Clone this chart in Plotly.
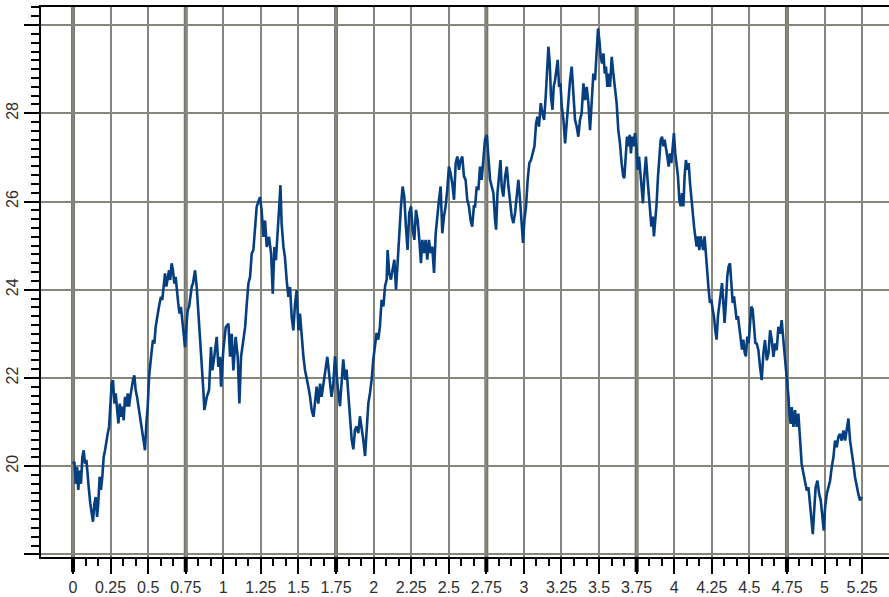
import numpy as np
import plotly.graph_objects as go

# ---- data ----
xs = [0.0, 0.009, 0.018, 0.027, 0.035, 0.044, 0.053, 0.062, 0.071, 0.08, 0.089, 0.097, 0.106, 0.115, 0.124, 0.133,
      0.142, 0.151, 0.16, 0.168, 0.177, 0.186, 0.195, 0.204, 0.213, 0.222, 0.231, 0.24, 0.248, 0.257, 0.266, 0.275,
      0.284, 0.293, 0.302, 0.311, 0.319, 0.328, 0.337, 0.346, 0.355, 0.364, 0.373, 0.381, 0.39, 0.399, 0.408, 0.417,
      0.426, 0.435, 0.444, 0.452, 0.461, 0.47, 0.479, 0.488, 0.497, 0.506, 0.515, 0.524, 0.532, 0.541, 0.55, 0.559,
      0.568, 0.576, 0.585, 0.594, 0.603, 0.612, 0.621, 0.63, 0.639, 0.647, 0.656, 0.665, 0.674, 0.683, 0.692, 0.7,
      0.709, 0.718, 0.727, 0.736, 0.745, 0.754, 0.763, 0.772, 0.781, 0.79, 0.798, 0.805, 0.812,
      0.823, 0.834, 0.845, 0.856, 0.867, 0.874, 0.89, 0.905, 0.918, 0.927, 0.94, 0.956, 0.967, 0.978, 0.985, 1.0,
      1.016, 1.034, 1.045, 1.056, 1.067, 1.082, 1.096, 1.107, 1.118, 1.134, 1.145, 1.156, 1.167, 1.178, 1.189, 1.2,
      1.211, 1.222, 1.233, 1.244, 1.255, 1.267, 1.278, 1.289, 1.304, 1.318, 1.329, 1.34, 1.35, 1.362, 1.373, 1.38,
      1.388, 1.4, 1.41, 1.422, 1.433, 1.444, 1.455, 1.466, 1.477, 1.488, 1.5, 1.51, 1.52, 1.533, 1.544, 1.555,
      1.566, 1.577, 1.588, 1.6, 1.61, 1.621, 1.632, 1.644, 1.654, 1.666, 1.677, 1.692, 1.706, 1.72, 1.732,
      1.743, 1.761, 1.776, 1.787, 1.798, 1.81, 1.82, 1.831, 1.843, 1.854, 1.865, 1.876, 1.887, 1.898, 1.909, 1.92,
      1.931, 1.943, 1.954, 1.965, 1.976, 1.987, 1.998, 2.009, 2.02, 2.031, 2.042, 2.053, 2.065, 2.076, 2.087, 2.093,
      2.104, 2.115, 2.127, 2.138, 2.149, 2.16, 2.171, 2.182, 2.193, 2.204, 2.215, 2.226, 2.237, 2.249, 2.26, 2.271,
      2.282, 2.293, 2.304, 2.315, 2.324, 2.335, 2.346, 2.357, 2.368, 2.379, 2.39, 2.402, 2.413, 2.424, 2.435, 2.446,
      2.457, 2.468, 2.479, 2.49, 2.501, 2.512, 2.523, 2.535, 2.546, 2.557, 2.568, 2.579, 2.59, 2.601, 2.612, 2.623,
      2.634, 2.645, 2.656, 2.667,
      2.675, 2.686, 2.697, 2.708, 2.719, 2.73, 2.741, 2.753, 2.764, 2.775, 2.786, 2.797, 2.808, 2.815, 2.824, 2.835,
      2.844, 2.852, 2.863, 2.875, 2.886, 2.897, 2.908, 2.919, 2.93, 2.941, 2.952, 2.963, 2.974, 2.985, 2.994, 3.003,
      3.014, 3.025, 3.036, 3.047, 3.058, 3.07, 3.081, 3.09, 3.1, 3.112, 3.123, 3.134, 3.145, 3.154, 3.163, 3.172,
      3.18, 3.19, 3.198, 3.207, 3.216, 3.225, 3.234, 3.243, 3.252, 3.263, 3.274, 3.285, 3.296, 3.307, 3.318, 3.329,
      3.34, 3.351, 3.362, 3.373, 3.384, 3.396, 3.407, 3.418, 3.429, 3.44, 3.451, 3.462, 3.473, 3.484, 3.493, 3.502,
      3.511, 3.52, 3.529, 3.538, 3.546, 3.555, 3.564, 3.573, 3.584, 3.595, 3.606, 3.617,
      3.628, 3.639, 3.65, 3.661, 3.668, 3.677, 3.686, 3.695, 3.704, 3.712, 3.721, 3.73, 3.739, 3.748, 3.757, 3.766,
      3.775, 3.783, 3.792, 3.801, 3.812, 3.821, 3.83, 3.839, 3.848, 3.857, 3.865, 3.874, 3.883, 3.892, 3.901, 3.91,
      3.919, 3.928, 3.936, 3.945, 3.954, 3.963, 3.972, 3.981, 3.99, 3.998, 4.007, 4.016, 4.025, 4.034, 4.043, 4.052,
      4.061, 4.069, 4.078, 4.087, 4.096, 4.105, 4.114, 4.123, 4.132, 4.14, 4.149, 4.158, 4.167, 4.176, 4.185, 4.193,
      4.202, 4.211, 4.22, 4.229, 4.238, 4.247, 4.256, 4.264, 4.273, 4.282, 4.291, 4.3, 4.309, 4.318, 4.327, 4.335,
      4.344, 4.353, 4.362, 4.371, 4.38, 4.389, 4.398, 4.406, 4.415, 4.424, 4.433, 4.442, 4.451, 4.46, 4.469, 4.477,
      4.486, 4.495, 4.504, 4.513, 4.522, 4.531,
      4.54, 4.549, 4.56, 4.571, 4.582, 4.593, 4.604, 4.616, 4.627, 4.638, 4.649, 4.66, 4.671, 4.682, 4.693, 4.704,
      4.715, 4.726, 4.738, 4.749, 4.76, 4.766, 4.775, 4.782, 4.793, 4.804, 4.815, 4.826, 4.837, 4.848, 4.86, 4.87,
      4.882, 4.893, 4.904, 4.915, 4.922, 4.93, 4.941, 4.953, 4.964, 4.975, 4.986, 4.995, 5.004, 5.015, 5.026, 5.037,
      5.048, 5.059, 5.07, 5.081, 5.092, 5.103, 5.114, 5.126, 5.137, 5.148, 5.159, 5.17, 5.181, 5.192, 5.203, 5.214,
      5.225, 5.236, 5.247]

ys = [20.05, 20.1, 19.6, 19.98, 19.46, 19.9, 19.6, 20.2, 20.36, 20.06, 20.14, 19.76, 19.46, 19.15, 18.93, 18.74,
      19.15, 19.3, 18.85, 19.15, 19.76, 19.46, 19.76, 20.21, 20.36, 20.59, 20.74, 20.89, 21.27, 21.87, 21.95, 21.42,
      21.65, 21.27, 20.97, 21.42, 21.12, 21.35, 21.04, 21.57, 21.35, 21.65, 21.35, 21.57, 21.8, 21.95, 22.06, 21.72,
      21.57, 21.35, 21.19, 20.97, 20.74, 20.59, 20.36, 20.97, 21.35, 22.03, 22.4, 22.63, 22.86, 22.78, 23.16, 23.39,
      23.54, 23.69, 23.84, 23.77, 24.14, 24.37, 24.07, 24.29, 24.44, 24.22, 24.6, 24.44, 24.14, 24.29, 23.92, 23.69,
      23.46, 23.61, 23.31, 22.93, 22.7, 23.16, 23.54, 23.61, 23.92, 24.07, 24.14, 24.3, 24.44,
      24.06, 23.53, 23.08, 22.32, 21.72, 21.27, 21.57, 21.72, 22.7, 22.17, 22.48, 22.93, 22.25, 22.48, 21.8, 22.63,
      23.15, 23.23, 22.48, 23.0, 22.17, 22.93, 22.48, 21.42, 22.48, 22.85, 23.15, 23.68, 24.14, 24.29, 24.82, 24.9,
      25.42, 25.88, 25.99, 26.1, 25.8, 25.2, 25.57, 24.97, 25.2, 24.82, 23.91, 24.97, 24.67, 25.5, 25.95, 26.37,
      25.5, 24.97, 24.74, 24.2, 23.84, 24.06, 23.38, 23.08, 23.68, 23.99, 23.08, 23.46, 23.0, 22.48, 22.17, 22.02,
      21.8, 21.57, 21.27, 21.12, 21.42, 21.8, 21.42, 21.87, 21.57, 21.87, 22.17, 22.48, 22.02, 21.57, 21.87,
      22.49, 21.81, 21.36, 21.89, 22.42, 21.96, 22.19, 21.66, 20.98, 20.6, 20.38, 20.83, 20.9, 20.75, 21.13, 20.9,
      20.6, 20.23, 20.83, 21.43, 21.66, 21.96, 22.42, 22.79, 23.02, 22.87, 23.17, 23.77, 23.62, 24.08, 24.23, 24.9,
      24.38, 24.23, 24.53, 24.68, 24.0, 24.68, 25.43, 25.89, 26.34, 26.11, 25.43, 24.9, 25.74, 25.89, 25.36, 25.13,
      25.81, 25.58, 25.13, 24.6, 25.13, 24.83, 25.13, 24.68, 25.13, 24.83, 24.98, 24.38, 25.28, 25.74, 26.04, 26.34,
      25.28, 25.66, 25.89, 26.26, 26.79, 26.64, 26.42, 26.04, 26.87, 27.02, 26.72, 26.94, 27.02, 26.57, 26.49, 26.04,
      25.89, 25.58, 25.43, 25.89,
      25.89, 26.34, 26.26, 26.79, 26.49, 26.94, 27.4, 27.51, 26.94, 26.49, 26.34, 26.19, 25.58, 25.36, 26.19, 26.72,
      26.94, 26.34, 26.11, 26.57, 26.79, 26.34, 25.96, 25.66, 25.51, 25.74, 26.11, 26.49, 26.04, 25.58, 25.06, 25.58,
      25.89, 26.49, 26.87, 26.94, 27.09, 27.25, 27.77, 27.92, 27.7, 28.23, 28.0, 27.85, 28.38, 28.98, 29.51, 29.13,
      28.38, 28.08, 28.6, 28.75, 28.98, 29.21, 28.6, 28.68, 28.15, 27.85, 27.32, 27.85, 28.45, 28.75, 29.06, 28.3,
      27.85, 27.7, 27.47, 27.85, 28.0, 28.68, 28.3, 28.6, 28.23, 27.62, 28.23, 28.9, 28.75, 29.43, 29.92, 29.66,
      29.28, 29.13, 29.36, 28.9, 29.06, 28.6, 28.9, 28.6, 29.28, 28.9, 28.6, 28.23,
      27.62, 27.32, 26.87, 26.57, 26.53, 27.02, 27.47, 27.25, 27.51, 27.09, 27.47, 27.25, 27.55, 27.25, 26.72, 27.02,
      26.57, 26.26, 25.96, 26.57, 27.02, 26.57, 26.26, 25.81, 25.43, 25.66, 25.21, 25.58, 25.96, 26.57, 27.09, 27.4,
      27.47, 27.25, 27.4, 27.25, 27.02, 26.79, 27.09, 26.87, 27.25, 27.55, 27.09, 26.79, 26.57, 26.04, 25.89, 26.19,
      25.89, 26.57, 26.94, 26.72, 26.87, 26.42, 26.04, 25.74, 25.43, 25.21, 24.98, 25.21, 24.9, 25.21, 25.06, 24.9,
      25.21, 24.75, 24.3, 24.0, 23.7, 23.77, 23.55, 23.4, 23.09, 22.87, 23.4, 23.62, 23.92, 24.15, 23.7, 23.25,
      23.7, 24.3, 24.53, 24.6, 24.15, 23.7, 23.85, 23.55, 23.32, 23.4, 23.09, 22.79, 22.64, 22.87, 22.57, 22.49,
      22.94, 22.79, 23.25, 23.62, 23.55, 23.09,
      22.79, 22.78, 22.63, 22.25, 21.95, 22.55, 22.86, 22.4, 22.55, 23.08, 22.86, 22.48, 22.78, 22.63, 23.16, 23.0,
      23.31, 22.86, 22.4, 22.1, 21.57, 21.19, 20.96, 21.34, 20.89, 21.27, 20.89, 21.19, 20.58, 20.05, 19.83, 19.67,
      19.45, 19.52, 19.14, 18.84, 18.46, 18.92, 19.52, 19.67, 19.37, 19.22, 18.92, 18.54, 19.07, 19.37, 19.52, 19.67,
      19.98, 20.2, 20.58, 20.43, 20.66, 20.73, 20.58, 20.81, 20.58, 20.89, 21.08, 20.58, 20.36, 20.05, 19.75, 19.52,
      19.37, 19.22, 19.3]

x_tick_vals = [i * 0.25 for i in range(22)]
x_tick_text = ["%g" % v for v in x_tick_vals]
y_tick_vals = [18, 20, 22, 24, 26, 28, 30]
y_tick_text = ["", "20", "22", "24", "26", "28", ""]
thick_x = [0, 0.75, 1.75, 2.75, 3.75, 4.75]

# ---- styling ----
LINE_COLOR = "#063f7f"
GRID = "#86867d"
THICK = "#75756b"
FONT = "Liberation Sans, Arial, sans-serif"
TXT = "#2e2e2e"

x_minor = [k / 12 for k in range(0, 64) if k % 3 != 0 and k / 12 <= 5.25]
y_minor = [round(18 + 0.2 * k, 1) for k in range(0, 63) if k % 10 != 0]

fig = go.Figure()
fig.add_trace(go.Scatter(x=xs, y=ys, mode="lines",
                         line=dict(color=LINE_COLOR, width=2.6), hoverinfo="skip"))

shapes = []
for xv in thick_x:
    shapes.append(dict(type="line", xref="x", yref="paper", x0=xv, x1=xv, y0=0, y1=1,
                       line=dict(color=THICK, width=4), layer="below"))
    shapes.append(dict(type="line", xref="x", yref="paper", x0=xv, x1=xv,
                       ysizemode="pixel", yanchor=0, y0=0, y1=-15,
                       line=dict(color="black", width=4), layer="above"))

fig.update_layout(
    width=889, height=597,
    margin=dict(l=41, r=0, t=7, b=40),
    paper_bgcolor="white", plot_bgcolor="white",
    showlegend=False,
    shapes=shapes,
    font=dict(family=FONT, size=16, color=TXT),
    xaxis=dict(
        range=[-0.213, 5.429],
        tickmode="array", tickvals=x_tick_vals, ticktext=x_tick_text,
        showgrid=True, gridcolor=GRID, gridwidth=2, zeroline=False,
        showline=True, linecolor="black", linewidth=2, mirror=True,
        ticks="outside", ticklen=15, tickwidth=2, tickcolor="black",
        tickfont=dict(family=FONT, size=16, color=TXT),
        minor=dict(tickmode="array", tickvals=x_minor, ticks="outside",
                   ticklen=7, tickwidth=2, tickcolor="black", showgrid=False),
    ),
    yaxis=dict(
        range=[17.94, 30.41],
        tickmode="array", tickvals=y_tick_vals, ticktext=y_tick_text,
        showgrid=True, gridcolor=GRID, gridwidth=2, zeroline=False,
        showline=True, linecolor="black", linewidth=2, mirror=False,
        ticks="outside", ticklen=15, tickwidth=2, tickcolor="black",
        tickangle=-90,
        tickfont=dict(family=FONT, size=16, color=TXT),
        minor=dict(tickmode="array", tickvals=y_minor, ticks="outside",
                   ticklen=8, tickwidth=2, tickcolor="black", showgrid=False),
    ),
)

fig.write_html("out.html")
